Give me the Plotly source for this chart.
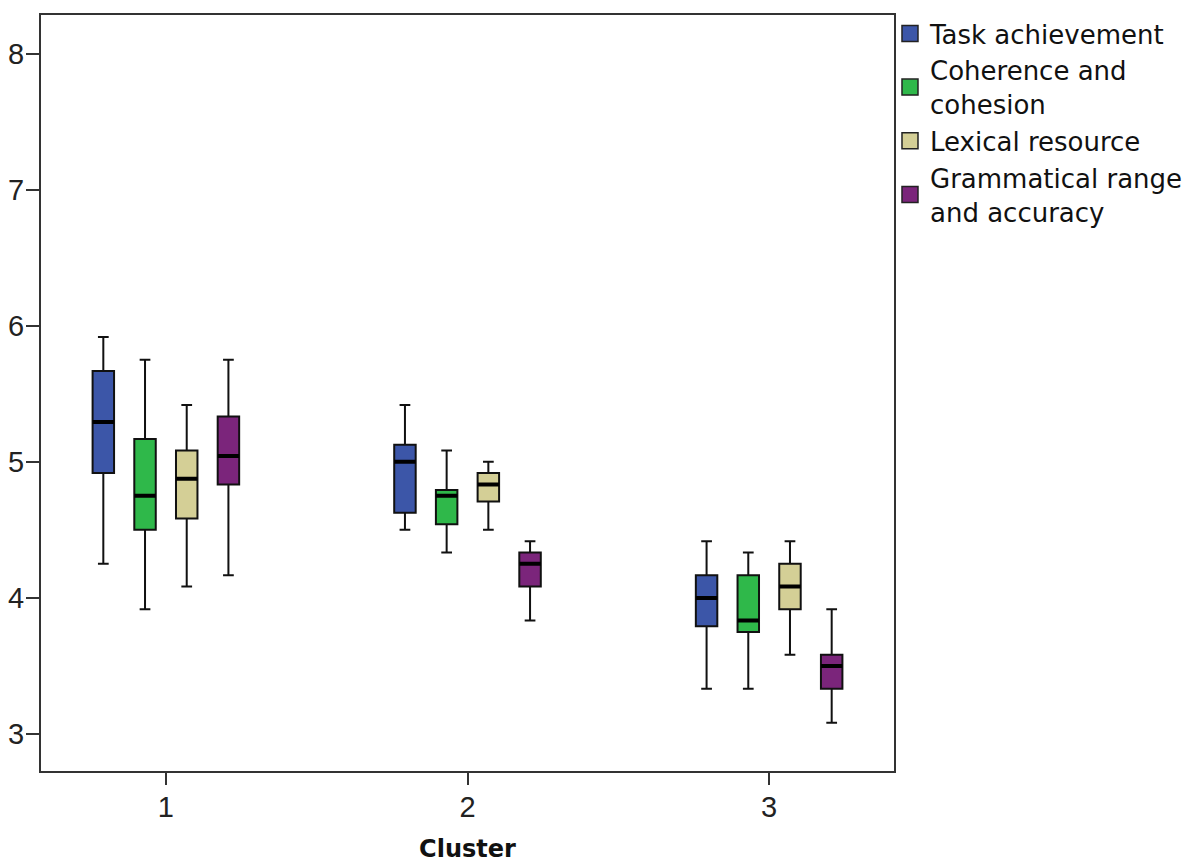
import plotly.graph_objects as go

clusters = [1, 2, 3]
series_names = ["Task achievement", "Coherence and<br>cohesion", "Lexical resource",
                "Grammatical range<br>and accuracy"]
series_colors = ["#3c56a8", "#2fb84a", "#d4cf96", "#7b257b"]

ta_low = [4.25, 4.5, 3.333]
ta_q1 = [4.917, 4.625, 3.792]
ta_med = [5.292, 5.0, 4.0]
ta_q3 = [5.667, 5.125, 4.167]
ta_high = [5.917, 5.417, 4.417]

cc_low = [3.917, 4.333, 3.333]
cc_q1 = [4.5, 4.542, 3.75]
cc_med = [4.75, 4.75, 3.833]
cc_q3 = [5.167, 4.792, 4.167]
cc_high = [5.75, 5.083, 4.333]

lr_low = [4.083, 4.5, 3.583]
lr_q1 = [4.583, 4.708, 3.917]
lr_med = [4.875, 4.833, 4.083]
lr_q3 = [5.083, 4.917, 4.25]
lr_high = [5.417, 5.0, 4.417]

gr_low = [4.167, 3.833, 3.083]
gr_q1 = [4.833, 4.083, 3.333]
gr_med = [5.042, 4.25, 3.5]
gr_q3 = [5.333, 4.333, 3.583]
gr_high = [5.75, 4.417, 3.917]

stats = [
    (ta_low, ta_q1, ta_med, ta_q3, ta_high),
    (cc_low, cc_q1, cc_med, cc_q3, cc_high),
    (lr_low, lr_q1, lr_med, lr_q3, lr_high),
    (gr_low, gr_q1, gr_med, gr_q3, gr_high),
]

TICK_FONT = "Liberation Sans Narrow, Arial Narrow, Liberation Sans, Arial, sans-serif"
LEG_FONT = "DejaVu Sans, Verdana, sans-serif"

fig = go.Figure()
for i, (name, color, (lo, q1, med, q3, hi)) in enumerate(zip(series_names, series_colors, stats)):
    fig.add_trace(go.Box(
        x=clusters, q1=q1, median=med, q3=q3, lowerfence=lo, upperfence=hi,
        name=name, fillcolor=color, line=dict(color="#111111", width=2),
        whiskerwidth=0.5, offsetgroup=str(i), legendgroup=str(i),
        showlegend=False, hoverinfo="skip",
    ))
for i, (color, (lo, q1, med, q3, hi)) in enumerate(zip(series_colors, stats)):
    fig.add_trace(go.Box(
        x=clusters, q1=med, median=med, q3=med, lowerfence=med, upperfence=med,
        name="median", fillcolor="rgba(0,0,0,0)", line=dict(color="#000000", width=4),
        whiskerwidth=0, offsetgroup=str(i), legendgroup=str(i), showlegend=False,
        hoverinfo="skip",
    ))
# legend entries (square swatches)
for i, (name, color) in enumerate(zip(series_names, series_colors)):
    fig.add_trace(go.Scatter(
        x=[None], y=[None], mode="markers", name=name, legendgroup=str(i),
        marker=dict(symbol="square", size=26, color=color,
                    line=dict(color="#222222", width=1.5)),
        hoverinfo="skip",
    ))

fig.update_layout(
    width=1198, height=868,
    margin=dict(l=41, r=302, t=10, b=97),
    paper_bgcolor="white", plot_bgcolor="white",
    boxmode="group", boxgap=0.447, boxgroupgap=0.485,
    font=dict(family=TICK_FONT, size=29, color="#222222"),
    showlegend=True,
    legend=dict(x=0.9953, xanchor="left", y=1.0066, yanchor="top",
                font=dict(family=LEG_FONT, size=26, color="#111111"),
                tracegroupgap=0, bgcolor="rgba(0,0,0,0)", borderwidth=0),
    xaxis=dict(
        type="linear", range=[0.586, 3.414], tickvals=clusters, ticktext=["1", "2", "3"],
        showline=True, linecolor="#333333", linewidth=2, mirror=True,
        ticks="outside", ticklen=12, tickwidth=2, tickcolor="#333333",
        showgrid=False, zeroline=False, automargin=False, ticklabelstandoff=-3,
        tickfont=dict(family=TICK_FONT, size=29, color="#222222"),
        title=dict(text="<b>Cluster</b>", font=dict(family=LEG_FONT, size=24, color="#111111"), standoff=18),
    ),
    yaxis=dict(
        range=[2.728, 8.283], tickvals=[3, 4, 5, 6, 7, 8], ticktext=["3", "4", "5", "6", "7", "8"],
        showline=True, linecolor="#333333", linewidth=2, mirror=True,
        ticks="outside", ticklen=13, tickwidth=2, tickcolor="#333333",
        showgrid=False, zeroline=False, automargin=False, ticklabelstandoff=-4,
        tickfont=dict(family=TICK_FONT, size=29, color="#222222"),
    ),
)

fig.write_html(
    "out.html",
    config={"displayModeBar": False},
    post_script="document.body.style.margin='0px';document.body.style.padding='0px';",
)
